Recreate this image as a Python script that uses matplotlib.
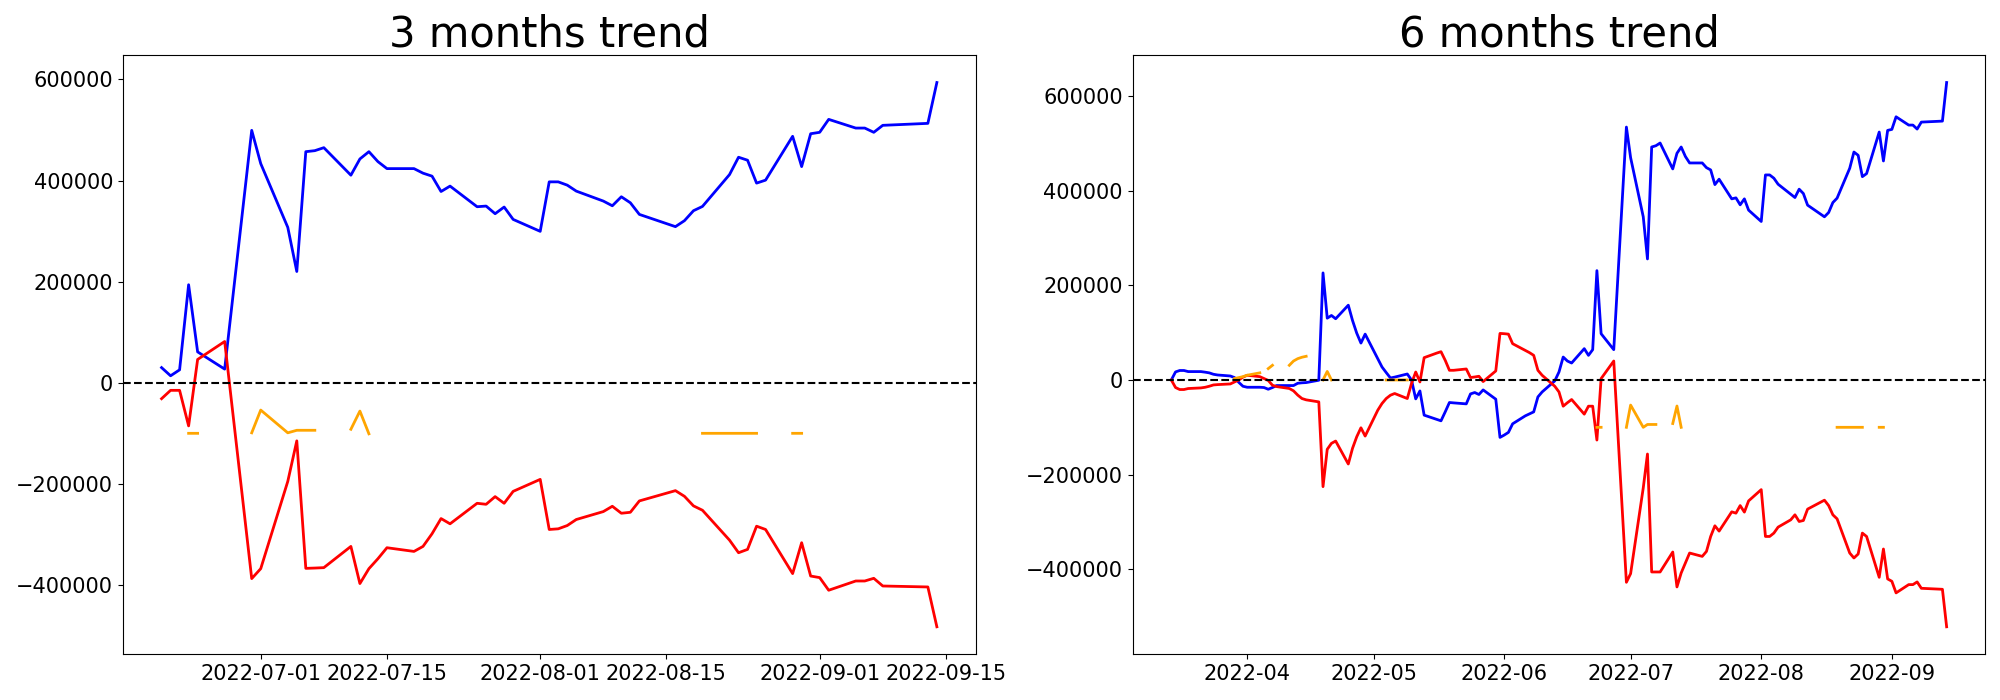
import matplotlib
matplotlib.use("Agg")
import matplotlib.pyplot as plt
import numpy as np
import pandas as pd

# ---------------- 3 months data ----------------
left_dates = ["2022-06-20", "2022-06-21", "2022-06-22", "2022-06-23", "2022-06-24", "2022-06-27",
              "2022-06-30", "2022-07-01", "2022-07-04", "2022-07-05", "2022-07-06", "2022-07-07",
              "2022-07-08", "2022-07-11", "2022-07-12", "2022-07-13", "2022-07-14", "2022-07-15",
              "2022-07-18", "2022-07-19", "2022-07-20", "2022-07-21", "2022-07-22", "2022-07-25",
              "2022-07-26", "2022-07-27", "2022-07-28", "2022-07-29", "2022-08-01", "2022-08-02",
              "2022-08-03", "2022-08-04", "2022-08-05", "2022-08-08", "2022-08-09", "2022-08-10",
              "2022-08-11", "2022-08-12", "2022-08-16", "2022-08-17", "2022-08-18", "2022-08-19",
              "2022-08-22", "2022-08-23", "2022-08-24", "2022-08-25", "2022-08-26", "2022-08-29",
              "2022-08-30", "2022-08-31", "2022-09-01", "2022-09-02", "2022-09-05", "2022-09-06",
              "2022-09-07", "2022-09-08", "2022-09-13", "2022-09-14"]
left_blue = [30000, 13800, 25600, 193900, 61100, 27000,
             499300, 433500, 307400, 220100, 457100, 459100,
             465000, 410600, 442700, 457100, 437400, 423600,
             423600, 414600, 408700, 378300, 389000, 348200,
             349500, 334400, 347600, 323100, 299500, 397400,
             397400, 390900, 379100, 359400, 350100, 367900,
             356000, 333000, 308800, 320600, 340300, 348800,
             411800, 446100, 440200, 394900, 400800, 487500,
             427600, 492600, 495400, 521000, 503800, 503800,
             495400, 509200, 513100, 593900]
left_red = [-31500, -15000, -15000, -85300, 46100, 81600,
            -387400, -367700, -195100, -114900, -367100, -366500,
            -365700, -323700, -397200, -367700, -348000, -326300,
            -333600, -323700, -298700, -268600, -279000, -238400,
            -240400, -225200, -238400, -214800, -191100, -290200,
            -288900, -282400, -270500, -254800, -244300, -258100,
            -256200, -233700, -213400, -224600, -243500, -252200,
            -311300, -336200, -329600, -283700, -290200, -377500,
            -316400, -382300, -385400, -410400, -392100, -392100,
            -386800, -402000, -403900, -482700]
left_orange_dates = ["2022-06-23", "2022-06-24", "2022-06-27", "2022-06-30", "2022-07-01",
                     "2022-07-04", "2022-07-05", "2022-07-06", "2022-07-07", "2022-07-08",
                     "2022-07-11", "2022-07-12", "2022-07-13", "2022-07-14", "2022-08-19",
                     "2022-08-22", "2022-08-23", "2022-08-24", "2022-08-25", "2022-08-26",
                     "2022-08-29", "2022-08-30"]
left_orange = [-100000, -100000, np.nan, -99000, -54000,
               -99000, -94000, -94000, -94000, np.nan,
               -92000, -56000, -101000, np.nan, -100000,
               -100000, -100000, -100000, -100000, np.nan,
               -100000, -100000]

# ---------------- 6 months data ----------------
right_dates = ["2022-03-14", "2022-03-15", "2022-03-16", "2022-03-17", "2022-03-18", "2022-03-21",
               "2022-03-22", "2022-03-23", "2022-03-24", "2022-03-25", "2022-03-28", "2022-03-29",
               "2022-03-30", "2022-03-31", "2022-04-01", "2022-04-04", "2022-04-05", "2022-04-06",
               "2022-04-07", "2022-04-08", "2022-04-11", "2022-04-12", "2022-04-13", "2022-04-14",
               "2022-04-15", "2022-04-18", "2022-04-19", "2022-04-20", "2022-04-21", "2022-04-22",
               "2022-04-25", "2022-04-26", "2022-04-27", "2022-04-28", "2022-04-29", "2022-05-02",
               "2022-05-03", "2022-05-04", "2022-05-05", "2022-05-06", "2022-05-09", "2022-05-10",
               "2022-05-11", "2022-05-12", "2022-05-13", "2022-05-16", "2022-05-17", "2022-05-18",
               "2022-05-19", "2022-05-20", "2022-05-23", "2022-05-24", "2022-05-25", "2022-05-26",
               "2022-05-27", "2022-05-30", "2022-05-31", "2022-06-01", "2022-06-02", "2022-06-03",
               "2022-06-06", "2022-06-07", "2022-06-08", "2022-06-09", "2022-06-10", "2022-06-13",
               "2022-06-14", "2022-06-15", "2022-06-16", "2022-06-17", "2022-06-20", "2022-06-21",
               "2022-06-22", "2022-06-23", "2022-06-24", "2022-06-27", "2022-06-30", "2022-07-01",
               "2022-07-04", "2022-07-05", "2022-07-06", "2022-07-07", "2022-07-08", "2022-07-11",
               "2022-07-12", "2022-07-13", "2022-07-14", "2022-07-15", "2022-07-18", "2022-07-19",
               "2022-07-20", "2022-07-21", "2022-07-22", "2022-07-25", "2022-07-26", "2022-07-27",
               "2022-07-28", "2022-07-29", "2022-08-01", "2022-08-02", "2022-08-03", "2022-08-04",
               "2022-08-05", "2022-08-08", "2022-08-09", "2022-08-10", "2022-08-11", "2022-08-12",
               "2022-08-16", "2022-08-17", "2022-08-18", "2022-08-19", "2022-08-22", "2022-08-23",
               "2022-08-24", "2022-08-25", "2022-08-26", "2022-08-29", "2022-08-30", "2022-08-31",
               "2022-09-01", "2022-09-02", "2022-09-05", "2022-09-06", "2022-09-07", "2022-09-08",
               "2022-09-13", "2022-09-14"]
right_blue = [0, 17000, 20000, 20000, 17700, 17700,
              16500, 15000, 12000, 10500, 8400, 5000,
              -5000, -13300, -15400, -15400, -16000, -19600,
              -16000, -11800, -11800, -11800, -7000, -6000,
              -5500, -600, 226100, 130500, 136200, 129300,
              157900, 125700, 98900, 77900, 96800, 45000,
              27400, 15600, 4200, 6000, 12600, 0,
              -40000, -23200, -74300, -83400, -86300, -67400,
              -47600, -48400, -50500, -29500, -26500, -30700,
              -21000, -40600, -121300, -116400, -110700, -92600,
              -75800, -71600, -67400, -35800, -25300, -2000,
              16800, 48400, 40000, 35800, 66100, 52000,
              64000, 230900, 97700, 64000, 534100, 469500,
              344600, 255600, 492000, 494700, 500400, 445700,
              478700, 492000, 472000, 458300, 458300, 448400,
              443600, 412600, 424000, 382500, 384600, 369900,
              382500, 358700, 334700, 433000, 433000, 426100,
              413400, 392400, 385300, 402900, 393700, 369200,
              344600, 353700, 374700, 384000, 447100, 481400,
              474500, 429400, 435800, 523600, 462500, 527100,
              529200, 555800, 538300, 538300, 529900, 544600,
              546700, 628200]
right_red = [0, -16000, -20200, -20200, -18100, -16800,
             -15500, -13300, -10500, -9800, -8400, -4200,
             0, 6000, 9900, 7000, 3000, -1000,
             -11200, -14000, -18000, -23000, -32000, -39200,
             -42000, -46300, -225300, -146500, -133900, -129000,
             -177500, -144400, -120000, -101000, -118500, -63800,
             -49700, -39200, -32200, -28600, -39200, -7600,
             16800, -4200, 47100, 56800, 59700, 41500,
             20400, 20400, 23200, 5100, 6300, 7800,
             -3400, 19000, 98300, 97700, 96800, 76600,
             62500, 57700, 52000, 20400, 9900, -13300,
             -25300, -55400, -48000, -41300, -72200, -55400,
             -55400, -126900, 2900, 40000, -427300, -409000,
             -228000, -156400, -405500, -405500, -405500, -363400,
             -437100, -407600, -386500, -365500, -372600, -362100,
             -330500, -308000, -319200, -278500, -281300, -265300,
             -279100, -255400, -231600, -330500, -330500, -323400,
             -310800, -295400, -284800, -298900, -296800, -272800,
             -253900, -265300, -284800, -293300, -365500, -376000,
             -367600, -323400, -330500, -416800, -357000, -420200,
             -425200, -449700, -432200, -432200, -426500, -440000,
             -442100, -521300]
right_orange_dates = ["2022-03-29", "2022-03-30", "2022-03-31", "2022-04-01", "2022-04-04",
                      "2022-04-05", "2022-04-06", "2022-04-07", "2022-04-08", "2022-04-11",
                      "2022-04-12", "2022-04-13", "2022-04-14", "2022-04-15", "2022-04-18",
                      "2022-04-19", "2022-04-20", "2022-04-21", "2022-04-22", "2022-05-04",
                      "2022-05-05", "2022-05-06", "2022-05-09", "2022-05-10",
                      "2022-06-23", "2022-06-24", "2022-06-27", "2022-06-30", "2022-07-01",
                      "2022-07-04", "2022-07-05", "2022-07-06", "2022-07-07", "2022-07-08",
                      "2022-07-11", "2022-07-12", "2022-07-13", "2022-07-14", "2022-08-19",
                      "2022-08-22", "2022-08-23", "2022-08-24", "2022-08-25", "2022-08-26",
                      "2022-08-29", "2022-08-30"]
right_orange = [3000, 5000, 7000, 10000, 15000,
                np.nan, 24000, 31000, np.nan, 31000,
                40000, 45000, 48000, 50000, np.nan,
                0, 18000, 0, np.nan, 0,
                0, 0, 0, np.nan,
                -100000, -100000, np.nan, -100000, -53000,
                -100000, -94000, -94000, -94000, np.nan,
                -92000, -55000, -100000, np.nan, -100000,
                -100000, -100000, -100000, -100000, np.nan,
                -100000, -100000]

LW = 2.0

fig, axes = plt.subplots(1, 2, figsize=(20, 7), dpi=100)
fig.subplots_adjust(left=0.0614, right=0.9927, bottom=0.0657, top=0.921, wspace=0.184)

panels = [
    (axes[0], "3 months trend", left_dates, left_blue, left_red, left_orange_dates, left_orange),
    (axes[1], "6 months trend", right_dates, right_blue, right_red, right_orange_dates, right_orange),
]
for ax, title, d, b, r, od, o in panels:
    dd = pd.to_datetime(d)
    ax.plot(dd, b, color="blue", lw=LW)
    ax.plot(dd, r, color="red", lw=LW)
    ax.plot(pd.to_datetime(od), o, color="orange", lw=LW)
    ax.axhline(0, color="black", linestyle="--", lw=1.5)
    ax.set_title(title, fontsize=30)
    ax.tick_params(labelsize=15)

fig.savefig("out.png", dpi=100)
